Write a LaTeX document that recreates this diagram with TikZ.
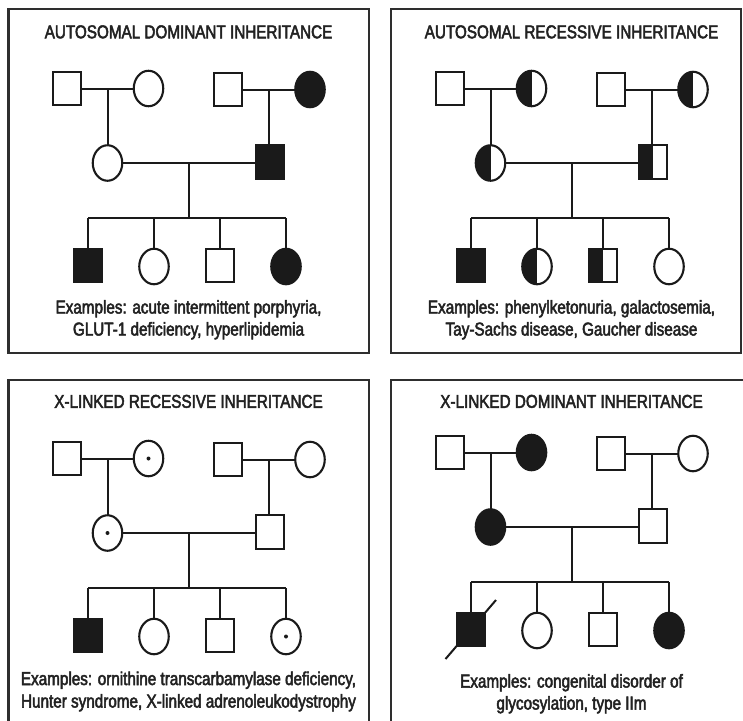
\documentclass[tikz,border=0pt]{standalone}
\usepackage{fontspec}
\newfontfamily\labelfont[FakeStretch=0.82,FakeBold=2.6]{Liberation Sans}
\usetikzlibrary{shapes.geometric,calc}

\definecolor{ink}{HTML}{1A1A1A}
\definecolor{txt}{HTML}{222222}
\definecolor{framecol}{HTML}{2E2E2E}

\tikzset{
  ind/.style={draw=ink, line width=2.1pt, inner sep=0pt, outer sep=0pt, fill=white},
  male/.style={ind, rectangle, minimum width=28.5pt, minimum height=33.5pt},
  female/.style={ind, ellipse, minimum width=29.5pt, minimum height=35.5pt},
  unaff/.style={},
  affected/.style={fill=ink},
  carrier/.style={path picture={\fill[ink] (path picture bounding box.south west)
      rectangle (path picture bounding box.north);}},
  xcarrier/.style={path picture={\fill[ink] (path picture bounding box.center) circle (2);}},
  link/.style={draw=ink, line width=2pt},
  panelbox/.style={draw=framecol, line width=2.2pt},
  caption/.style={font=\labelfont\fontsize{18.6}{22}\selectfont, text=txt,
      anchor=base, inner sep=0pt},
}

% #1 prefix, #2 grandmother 1, #3 grandmother 2, #4 mother, #5 father,
% #6-#9 the four children (son, daughter, son, daughter)
\newcommand\pedigree[9]{%
  \node[male] (#1gf1) at (67,88.5) {};
  \node[female,#2] (#1gm1) at (148.5,88.5) {};
  \node[male] (#1gf2) at (228,89.5) {};
  \node[female,#3] (#1gm2) at (310,89.5) {};
  \node[female,#4] (#1mo) at (107.5,163) {};
  \node[male,#5] (#1fa) at (270,162) {};
  \node[male,#6] (#1c1) at (88,265.5) {};
  \node[female,#7] (#1c2) at (154,266.5) {};
  \node[male,#8] (#1c3) at (220,265.5) {};
  \node[female,#9] (#1c4) at (286,266.5) {};
  % first grandparent couple and their daughter
  \draw[link] (#1gf1) -- (#1gm1);
  \coordinate (#1u1) at ($(#1gf1.east)!.5!(#1gm1.west)$);
  \draw[link] (#1u1) -- (#1u1 |- #1mo.north);
  % second grandparent couple and their son
  \draw[link] (#1gf2) -- (#1gm2);
  \coordinate (#1u2) at ($(#1gf2.east)!.5!(#1gm2.west)$);
  \draw[link] (#1u2) -- (#1u2 |- #1fa.north);
  % parents and sibship
  \draw[link] (#1mo.east) -- (#1mo.east -| #1fa.west);
  \coordinate (#1u3) at ($(#1mo.east)!.5!(#1mo.east -| #1fa.west)$);
  \coordinate (#1sib) at ($(#1u3)+(0,55)$);
  \draw[link] (#1u3) -- (#1sib);
  \draw[link] (#1c1.north |- #1sib) -- (#1c4.north |- #1sib);
  \foreach \k in {1,...,4}{\draw[link] (#1c\k.north |- #1sib) -- (#1c\k.north);}
}

\begin{document}
\begin{tikzpicture}[x=1pt,y=-1pt]
\useasboundingbox (0,0) rectangle (743,720);
\clip (0,0) rectangle (743,720);
\fill[white] (0,0) rectangle (743,720);

% panel frames
\draw[panelbox] (8.5,9) rectangle (369,353);
\draw[panelbox] (391,9) rectangle (741,353);
\draw[panelbox] (8.5,380) rectangle (369,740);
\draw[panelbox] (391,380) rectangle (760,740);

% autosomal dominant
\node[caption] (adT) at (188.5,38.3) {AUTOSOMAL DOMINANT INHERITANCE};
\begin{scope}
  \pedigree{ad-}{unaff}{affected}{unaff}{affected}{affected}{unaff}{unaff}{affected}
\end{scope}
\node[caption] (adE1) at (188.5,313.5) {Examples: acute intermittent porphyria,};
\node[caption] (adE2) at (188.5,335.5) {GLUT-1 deficiency, hyperlipidemia};

% autosomal recessive
\node[caption] (arT) at (571.5,38.3) {AUTOSOMAL RECESSIVE INHERITANCE};
\begin{scope}[shift={(383,0)}]
  \pedigree{ar-}{carrier}{carrier}{carrier}{carrier}{affected}{carrier}{carrier}{unaff}
\end{scope}
\node[caption] (arE1) at (571.5,313.5) {Examples: phenylketonuria, galactosemia,};
\node[caption] (arE2) at (571.5,335.5) {Tay-Sachs disease, Gaucher disease};

% X-linked recessive
\node[caption] (xrT) at (188.5,407.8) {X-LINKED RECESSIVE INHERITANCE};
\begin{scope}[shift={(0,370)}]
  \pedigree{xr-}{xcarrier}{unaff}{xcarrier}{unaff}{affected}{unaff}{unaff}{xcarrier}
\end{scope}
\node[caption] (xrE1) at (188.5,685) {Examples: ornithine transcarbamylase deficiency,};
\node[caption] (xrE2) at (188.5,707.5) {Hunter syndrome, X-linked adrenoleukodystrophy};

% X-linked dominant
\node[caption] (xdT) at (571.5,407.8) {X-LINKED DOMINANT INHERITANCE};
\begin{scope}[shift={(383,364)}]
  \pedigree{xd-}{affected}{unaff}{affected}{unaff}{affected}{unaff}{unaff}{affected}
  % deceased mark through the first son
  \draw[link] ([shift={(-25.5,29.5)}]xd-c1.center) -- ([shift={(25,-29.5)}]xd-c1.center);
\end{scope}
\node[caption] (xdE1) at (571.5,687.5) {Examples: congenital disorder of};
\node[caption] (xdE2) at (571.5,709.5) {glycosylation, type IIm};
\end{tikzpicture}
\end{document}
